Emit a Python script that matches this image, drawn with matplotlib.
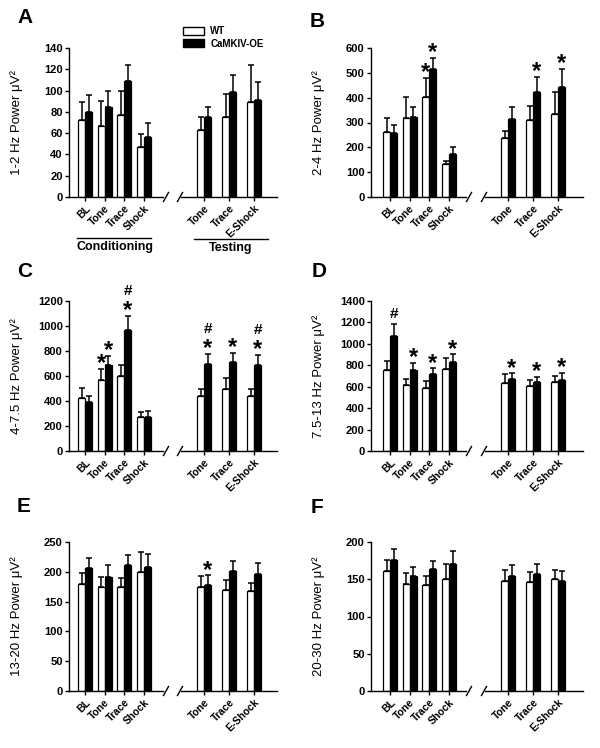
import matplotlib
matplotlib.use('Agg')
import matplotlib.pyplot as plt
from matplotlib.patches import Patch
from matplotlib.lines import Line2D

plt.rcParams['font.family'] = ['Liberation Sans', 'DejaVu Sans']

# ---------------- data ----------------
cond_labels = ['BL', 'Tone', 'Trace', 'Shock']
test_labels = ['Tone', 'Trace', 'E-Shock']
series_names = ['WT', 'CaMKIV-OE']

# order: BL, Tone, Trace, Shock (conditioning) | Tone, Trace, E-Shock (testing)
a_wt = [72, 67, 77, 47, 63, 75, 89]
a_wt_err = [17, 23, 23, 12, 12, 22, 35]
a_ca = [80, 85, 109, 56, 75, 99, 91]
a_ca_err = [16, 15, 15, 14, 10, 16, 17]

b_wt = [261, 317, 402, 133, 238, 309, 335]
b_wt_err = [56, 85, 77, 13, 27, 59, 87]
b_ca = [256, 324, 514, 173, 315, 424, 443]
b_ca_err = [33, 37, 47, 30, 49, 61, 72]

c_wt = [421, 566, 601, 275, 440, 493, 437]
c_wt_err = [81, 89, 87, 40, 59, 89, 59]
c_ca = [391, 685, 965, 275, 698, 709, 690]
c_ca_err = [46, 75, 116, 49, 78, 78, 78]

d_wt = [754, 612, 584, 769, 637, 603, 641]
d_wt_err = [88, 63, 69, 98, 79, 63, 62]
d_ca = [1074, 754, 722, 829, 669, 644, 659]
d_ca_err = [113, 69, 50, 75, 56, 50, 69]

e_wt = [180, 175, 174, 200, 175, 169, 168]
e_wt_err = [18, 16, 16, 33, 18, 17, 14]
e_ca = [207, 192, 212, 208, 178, 202, 196]
e_ca_err = [16, 19, 16, 22, 16, 16, 18]

f_wt = [161, 144, 142, 150, 148, 146, 150]
f_wt_err = [15, 14, 12, 20, 14, 14, 13]
f_ca = [176, 154, 164, 171, 155, 157, 148]
f_ca_err = [14, 13, 11, 17, 14, 13, 13]

# significance marks: (bar index, series, marker)
a_marks = []
b_marks = [(2, 'wt', '*'), (2, 'ca', '*'), (5, 'ca', '*'), (6, 'ca', '*')]
c_marks = [(1, 'wt', '*'), (1, 'ca', '*'), (2, 'ca', '#*'), (4, 'ca', '#*'),
           (5, 'ca', '*'), (6, 'ca', '#*')]
d_marks = [(0, 'ca', '#'), (1, 'ca', '*'), (2, 'ca', '*'), (3, 'ca', '*'),
           (4, 'ca', '*'), (5, 'ca', '*'), (6, 'ca', '*')]
e_marks = [(4, 'ca', '*')]
f_marks = []

y_labels = ['1-2 Hz Power \u03bcV\u00b2', '2-4 Hz Power \u03bcV\u00b2',
            '4-7.5 Hz Power \u03bcV\u00b2', '7.5-13 Hz Power \u03bcV\u00b2',
            '13-20 Hz Power \u03bcV\u00b2', '20-30 Hz Power \u03bcV\u00b2']
y_max = [140, 600, 1200, 1400, 250, 200]
y_step = [20, 100, 200, 200, 50, 50]
panel_letters = ['A', 'B', 'C', 'D', 'E', 'F']

# ---------------- layout ----------------
W, H = 600, 748
fig = plt.figure(figsize=(6, 7.48), dpi=100)

rows = [(48, 197), (301, 451), (542, 691)]
cols = [dict(x0=69, x1=163, x2=181, x3=277, gl=85, gr=204),
        dict(x0=371, x1=466, x2=485, x3=583, gl=390, gr=508)]
sp_l, sp_r = 19.67, 25.0
bar_px = 7.0
letter_pos = [(17, 23), (310, 27), (17, 277), (312, 277), (17, 512), (311, 513)]
ylab_x = [17, 319]

TICK_FS = 7.5
YTICK_FS = 8
LW = 1.0


def px_axes(x0, x1, ytop, ybot):
    return fig.add_axes([x0 / W, 1 - ybot / H, (x1 - x0) / W, (ybot - ytop) / H])


def draw_bars(ax, wt, wt_err, ca, ca_err, width):
    n = len(wt)
    xs = list(range(n))
    xw = [x - width / 2 for x in xs]
    xc = [x + width / 2 for x in xs]
    ax.bar(xw, wt, width=width, color='white', edgecolor='black', linewidth=0.9, zorder=2)
    ax.bar(xc, ca, width=width, color='black', edgecolor='black', linewidth=0.9, zorder=2)
    ax.errorbar(xw, wt, yerr=[[0] * n, wt_err], fmt='none', ecolor='black',
                elinewidth=1.1, capsize=2.0, capthick=1.1, zorder=1)
    ax.errorbar(xc, ca, yerr=[[0] * n, ca_err], fmt='none', ecolor='black',
                elinewidth=1.1, capsize=2.0, capthick=1.1, zorder=1)
    return xw, xc


def add_marks(ax, xw, xc, wt, wt_err, ca, ca_err, marks, offset):
    for idx, ser, m in marks:
        i = idx - offset
        if i < 0 or i >= len(xw):
            continue
        if ser == 'wt':
            x, top = xw[i], wt[i] + wt_err[i]
        else:
            x, top = xc[i], ca[i] + ca_err[i]
        if '*' in m:
            ax.annotate('*', (x, top), xytext=(0, -1.0), textcoords='offset points',
                        ha='center', va='baseline', fontsize=17, fontweight='bold',
                        annotation_clip=False)
            if '#' in m:
                ax.annotate('#', (x, top), xytext=(0, 15.0), textcoords='offset points',
                            ha='center', va='baseline', fontsize=11, fontweight='bold',
                            annotation_clip=False)
        elif '#' in m:
            ax.annotate('#', (x, top), xytext=(0, 4.5), textcoords='offset points',
                        ha='center', va='baseline', fontsize=11, fontweight='bold',
                        annotation_clip=False)


def break_mark(ax, xfrac, wpx, hpx, axw, axh):
    dx = wpx / 2 / axw
    dy = hpx / 2 / axh
    ax.add_line(Line2D([xfrac - dx, xfrac + dx], [-dy, dy], transform=ax.transAxes,
                       color='black', lw=LW, clip_on=False))


data = [(a_wt, a_wt_err, a_ca, a_ca_err, a_marks),
        (b_wt, b_wt_err, b_ca, b_ca_err, b_marks),
        (c_wt, c_wt_err, c_ca, c_ca_err, c_marks),
        (d_wt, d_wt_err, d_ca, d_ca_err, d_marks),
        (e_wt, e_wt_err, e_ca, e_ca_err, e_marks),
        (f_wt, f_wt_err, f_ca, f_ca_err, f_marks)]

for p in range(6):
    r, c = divmod(p, 2)
    ytop, ybot = rows[r]
    cc = cols[c]
    wt, wt_err, ca, ca_err, marks = data[p]

    axL = px_axes(cc['x0'], cc['x1'], ytop, ybot)
    axR = px_axes(cc['x2'], cc['x3'], ytop, ybot)

    wl = bar_px / sp_l
    wr = bar_px / sp_r
    xw, xc = draw_bars(axL, wt[:4], wt_err[:4], ca[:4], ca_err[:4], wl)
    add_marks(axL, xw, xc, wt[:4], wt_err[:4], ca[:4], ca_err[:4], marks, 0)
    xw2, xc2 = draw_bars(axR, wt[4:], wt_err[4:], ca[4:], ca_err[4:], wr)
    add_marks(axR, xw2, xc2, wt[4:], wt_err[4:], ca[4:], ca_err[4:], marks, 4)

    axL.set_xlim((cc['x0'] - cc['gl']) / sp_l, (cc['x1'] - cc['gl']) / sp_l)
    axR.set_xlim((cc['x2'] - cc['gr']) / sp_r, (cc['x3'] - cc['gr']) / sp_r)
    for ax in (axL, axR):
        ax.set_ylim(0, y_max[p])
        ax.patch.set_alpha(0)
        for s in ('top', 'right'):
            ax.spines[s].set_visible(False)
        ax.spines['bottom'].set_linewidth(LW)
        ax.spines['left'].set_linewidth(LW)
        ax.tick_params(axis='x', length=3, width=LW, pad=1.5)
    axL.set_yticks(range(0, y_max[p] + 1, y_step[p]))
    axL.tick_params(axis='y', length=3, width=LW, pad=1.5, labelsize=YTICK_FS)
    for t in axL.get_yticklabels():
        t.set_fontweight('bold')
    axR.spines['left'].set_visible(False)
    axR.set_yticks([])

    axL.set_xticks(range(4))
    axL.set_xticklabels(cond_labels, rotation=45, ha='right', va='top',
                        rotation_mode='anchor', fontsize=TICK_FS, fontweight='bold')
    axR.set_xticks(range(3))
    axR.set_xticklabels(test_labels, rotation=45, ha='right', va='top',
                        rotation_mode='anchor', fontsize=TICK_FS, fontweight='bold')

    axw_l = cc['x1'] - cc['x0']
    axw_r = cc['x3'] - cc['x2']
    axh = ybot - ytop
    break_mark(axL, 1 + 3.0 / axw_l, 5, 9, axw_l, axh)
    break_mark(axR, -1.0 / axw_r, 5, 9, axw_r, axh)

    fig.text(ylab_x[c] / W, 1 - ((ytop + ybot) / 2) / H, y_labels[p], rotation=90,
             ha='center', va='center', fontsize=9.5)
    lx, ly = letter_pos[p]
    fig.text(lx / W, 1 - ly / H, panel_letters[p], ha='left', va='baseline',
             fontsize=15, fontweight='bold')

    if p == 0:
        handles = [Patch(facecolor='white', edgecolor='black', linewidth=1.0),
                   Patch(facecolor='black', edgecolor='black', linewidth=1.0)]
        fig.legend(handles, series_names, loc='upper left',
                   bbox_to_anchor=(183 / W, 1 - 26 / H), frameon=False,
                   borderpad=0, borderaxespad=0, handlelength=2.2,
                   handleheight=0.85, labelspacing=0.28, handletextpad=0.6,
                   prop={'size': 7, 'weight': 'bold'})
        for (gx0, gx1, gy, txt, tx, ty) in [(77, 151, 238, 'Conditioning', 115, 247),
                                             (194, 268, 239, 'Testing', 231, 248)]:
            fig.add_artist(Line2D([gx0 / W, gx1 / W], [1 - gy / H, 1 - gy / H],
                                  color='black', lw=LW))
            fig.text(tx / W, 1 - ty / H, txt, ha='center', va='center',
                     fontsize=9, fontweight='bold')

fig.savefig('out.png', dpi=100)
